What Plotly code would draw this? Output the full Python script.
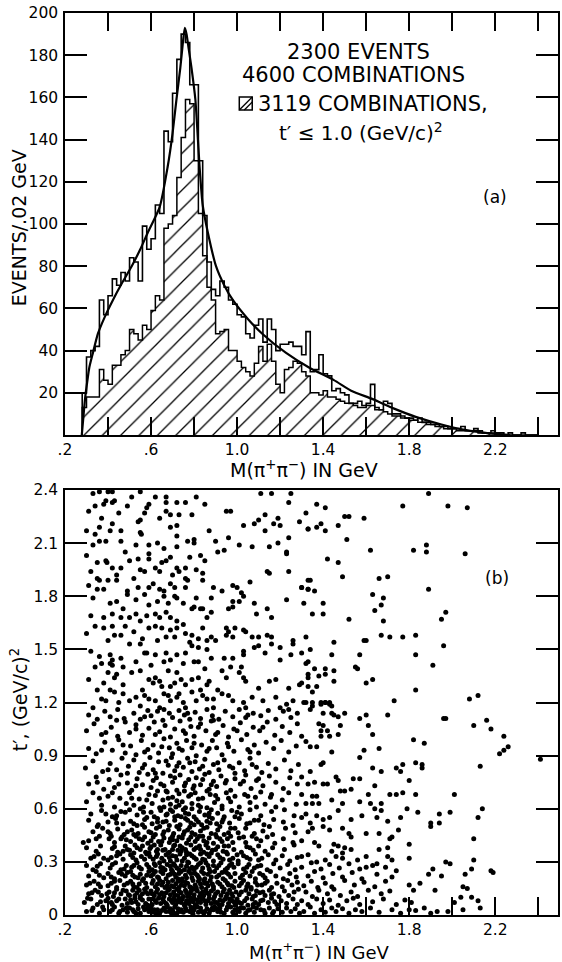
import plotly.graph_objects as go

# ---------------- figure geometry (pixels) ----------------
W, H = 562, 962
ML, MR, MT, MB = 65, 2, 13, 47
PW, PH = W - ML - MR, H - MT - MB


def px(x):
    """pixel column -> paper x"""
    return (x - ML) / PW


def py(y):
    """pixel row -> paper y"""
    return (H - MB - y) / PH


FONT = "DejaVu Sans"

# ---------------- (a) mass spectrum, 0.02 GeV bins ----------------
BIN_START = 0.28
BIN_WIDTH = 0.02

all_combinations = [
    20, 37, 40, 42, 64, 57, 66, 74, 71, 77,
    73, 84, 82, 73, 99, 88, 93, 109, 105, 144,
    139, 162, 178, 190, 186, 166, 166, 130, 104, 82,
    69, 66, 73, 70, 64, 62, 57, 56, 48, 46,
    52, 55, 44, 55, 50, 40, 43, 43, 44, 42,
    42, 38, 49, 30, 31, 38, 29, 28, 21, 22,
    20, 19, 15, 15, 16, 14, 15, 24, 13, 12,
    16, 15, 10, 10, 9, 8, 8, 7, 8, 6,
    6, 5, 5, 4, 4, 3, 3, 3, 4, 2,
    2, 3, 2, 1, 1, 2, 1, 1, 0, 1,
    0, 0, 1, 0, 0, 0,
]

tprime_below_1 = [
    13, 18, 18, 18, 31, 26, 24, 33, 33, 38,
    40, 50, 48, 45, 52, 50, 59, 66, 64, 98,
    100, 104, 122, 141, 159, 157, 130, 105, 85, 70,
    64, 48, 49, 50, 40, 40, 35, 32, 30, 28,
    34, 42, 35, 43, 35, 24, 20, 31, 32, 35,
    34, 30, 28, 20, 20, 19, 21, 18, 18, 17,
    16, 15, 15, 14, 13, 13, 14, 14, 12, 12,
    11, 10, 9, 9, 8, 8, 7, 7, 6, 6,
    5, 5, 4, 4, 3, 3, 3, 2, 2, 2,
    2, 2, 1, 1, 1, 1, 1, 0, 0, 0,
    0, 0, 0, 0, 0, 0,
]

# fitted curve for the full sample
fit_mass = [0.278, 0.285, 0.293, 0.303, 0.313, 0.33, 0.353, 0.385, 0.423, 0.465,
            0.51, 0.55, 0.585, 0.64, 0.677, 0.70, 0.718, 0.736, 0.748, 0.757,
            0.765, 0.775, 0.788, 0.806, 0.815, 0.825, 0.84, 0.864, 0.902, 0.94,
            0.98, 1.05, 1.117, 1.226, 1.334, 1.45, 1.53, 1.63, 1.73, 1.83,
            1.95, 2.06, 2.17, 2.27]
fit_events = [0, 8, 17, 25, 32, 39, 48, 56, 64, 72,
              80, 88, 96, 108, 127, 143, 159, 174, 186, 193,
              190, 183, 174, 159, 145, 128, 109, 96, 80, 71,
              64, 55, 48, 39, 32, 26, 21, 17, 12.5, 8.6,
              5, 2.4, 0.8, 0]

mass_ticks = [0.2, 0.6, 1.0, 1.4, 1.8, 2.2]
mass_labels = [".2", ".6", "1.0", "1.4", "1.8", "2.2"]
mass_minor = [0.4, 0.8, 1.2, 1.6, 2.0, 2.4]
events_ticks = [20, 40, 60, 80, 100, 120, 140, 160, 180, 200]
events_labels = ["20", "40", "60", "80", "100", "120", "140", "160", "180", "200"]

# ---------------- (b) t' versus M(pi+ pi-) ----------------
tprime_ticks = [0, 0.3, 0.6, 0.9, 1.2, 1.5, 1.8, 2.1, 2.4]
tprime_labels = ["0", "0.3", "0.6", "0.9", "1.2", "1.5", "1.8", "2.1", "2.4"]
upper_scale_ticks = [0.487, 0.769, 1.056, 1.343, 1.631, 1.922, 2.209]

# (mass GeV, t' (GeV/c)^2) pairs, low-t' region
dots_low = [
    (.30,.02),(.33,.04),(.36,.01),(.38,.03),(.41,.02),(.43,.045),(.45,.01),(.47,.03),(.49,.015),
    (.50,.04),(.52,.02),(.54,.035),(.55,.01),(.57,.03),(.59,.02),(.60,.045),(.61,.015),(.63,.03),
    (.64,.01),(.66,.04),(.67,.02),(.69,.035),(.695,.01),(.70,.025),(.71,.045),(.72,.01),(.74,.03),
    (.75,.015),(.76,.04),(.78,.02),(.79,.035),(.795,.005),(.80,.03),(.82,.015),(.83,.04),(.85,.02),
    (.86,.035),(.87,.01),(.89,.03),(.895,.045),(.91,.02),(.92,.04),(.94,.01),(.95,.03),(.97,.045),
    (.98,.015),(.99,.03),(1.01,.02),(1.03,.04),(1.04,.01),(1.06,.03),(1.08,.015),(1.09,.04),
    (1.11,.03),(1.13,.01),(1.15,.04),(1.17,.02),(1.19,.035),(1.21,.015),(1.23,.04),(1.25,.02),
    (1.27,.035),(1.29,.01),
    (.29,.07),(.32,.09),(.35,.06),(.39,.08),(.40,.095),(.42,.06),(.44,.08),(.465,.055),(.48,.09),
    (.51,.07),(.525,.095),(.54,.06),(.56,.085),(.575,.065),(.59,.09),(.605,.06),(.62,.08),(.635,.095),
    (.645,.065),(.66,.075),(.675,.055),(.685,.09),(.70,.07),(.71,.085),(.715,.06),(.73,.095),(.74,.07),
    (.755,.055),(.765,.08),(.775,.065),(.785,.095),(.795,.075),(.81,.06),(.815,.085),(.83,.07),
    (.84,.095),(.855,.06),(.865,.08),(.88,.065),(.89,.09),(.905,.07),(.92,.085),(.93,.06),(.945,.09),
    (.96,.065),(.975,.08),(.99,.055),(1.0,.09),(1.02,.065),(1.035,.08),(1.05,.055),(1.07,.09),
    (1.085,.07),(1.10,.06),(1.12,.085),(1.145,.07),(1.16,.095),(1.185,.06),(1.205,.08),(1.23,.065),
    (1.26,.09),(1.28,.06),
    (.31,.12),(.34,.14),(.37,.11),(.405,.13),(.425,.105),(.44,.145),(.46,.12),(.485,.135),(.50,.11),
    (.515,.14),(.535,.125),(.55,.105),(.57,.145),(.585,.12),(.60,.135),(.615,.11),(.63,.145),
    (.65,.125),(.66,.105),(.68,.14),(.69,.115),(.705,.13),(.72,.145),(.725,.11),(.74,.125),(.76,.14),
    (.77,.105),(.78,.12),(.795,.145),(.80,.115),(.815,.135),(.825,.105),(.84,.13),(.855,.145),
    (.87,.115),(.88,.135),(.895,.105),(.91,.13),(.925,.11),(.94,.145),(.955,.12),(.965,.14),(.98,.105),
    (.995,.13),(1.01,.115),(1.04,.14),(1.055,.12),(1.075,.105),(1.09,.135),(1.105,.125),(1.13,.11),
    (1.15,.14),(1.17,.12),(1.195,.105),(1.22,.135),(1.24,.11),(1.265,.13),(1.285,.145),
    (.30,.17),(.335,.19),(.365,.16),(.415,.18),(.44,.155),(.455,.195),(.475,.17),(.505,.19),(.52,.16),
    (.545,.175),(.56,.195),(.58,.155),(.605,.18),(.62,.16),(.64,.195),(.65,.17),(.665,.155),(.68,.185),
    (.695,.165),(.70,.195),(.715,.175),(.73,.155),(.745,.19),(.755,.165),(.77,.18),(.785,.155),
    (.795,.195),(.805,.17),(.82,.19),(.835,.155),(.85,.18),(.865,.165),(.875,.195),(.89,.16),
    (.91,.185),(.93,.16),(.945,.195),(.96,.17),(.985,.155),(.99,.19),(1.01,.165),(1.03,.195),
    (1.05,.175),(1.065,.155),(1.085,.185),(1.115,.17),(1.14,.19),(1.16,.155),(1.185,.18),(1.21,.16),
    (1.235,.195),(1.255,.17),(1.28,.185),
    (.31,.22),(.345,.245),(.38,.21),(.40,.235),(.43,.205),(.45,.24),(.48,.22),(.505,.245),(.525,.215),
    (.55,.23),(.565,.205),(.59,.245),(.60,.22),(.62,.245),(.635,.21),(.655,.235),(.67,.205),(.69,.23),
    (.70,.245),(.715,.215),(.73,.235),(.745,.205),(.76,.225),(.775,.245),(.79,.21),(.805,.235),
    (.82,.215),(.835,.245),(.85,.205),(.865,.23),(.88,.215),(.895,.245),(.915,.225),(.935,.205),
    (.95,.24),(.97,.215),(.99,.235),(1.015,.21),(1.04,.24),(1.06,.22),(1.085,.205),(1.105,.235),
    (1.13,.21),(1.155,.245),(1.18,.22),(1.215,.205),(1.245,.235),(1.275,.215),
    (.30,.28),(.33,.255),(.365,.29),(.41,.265),(.435,.295),(.46,.255),(.485,.28),(.51,.27),(.535,.295),
    (.555,.26),(.58,.285),(.605,.255),(.62,.28),(.64,.295),(.655,.265),(.675,.285),(.695,.255),
    (.705,.29),(.72,.265),(.74,.28),(.755,.255),(.775,.295),(.79,.27),(.80,.255),(.82,.285),(.84,.265),
    (.855,.295),(.87,.26),(.89,.28),(.905,.265),(.925,.295),(.945,.255),(.965,.28),(.985,.27),
    (1.005,.29),(1.03,.26),(1.055,.285),(1.08,.265),(1.11,.28),(1.14,.255),(1.17,.29),(1.20,.265),
    (1.235,.285),(1.27,.255),
    (.32,.32),(.355,.345),(.40,.31),(.44,.335),(.47,.315),(.505,.34),(.53,.31),(.555,.33),(.58,.345),
    (.61,.315),(.63,.345),(.65,.32),(.67,.34),(.69,.305),(.70,.335),(.72,.31),(.735,.345),(.755,.32),
    (.77,.30),(.79,.335),(.81,.315),(.83,.345),(.85,.31),(.87,.33),(.89,.305),(.91,.34),(.935,.315),
    (.955,.345),(.98,.32),(1.005,.305),(1.03,.335),(1.06,.315),(1.085,.345),(1.115,.32),(1.145,.34),
    (1.18,.31),(1.21,.335),(1.245,.305),(1.28,.325),
    (.30,.38),(.345,.36),(.42,.375),(.445,.355),(.48,.39),(.50,.365),(.525,.395),(.55,.37),(.575,.355),
    (.60,.385),(.625,.36),(.645,.395),(.665,.37),(.685,.355),(.705,.39),(.725,.365),(.745,.38),
    (.765,.355),(.785,.395),(.80,.37),(.825,.39),(.845,.355),(.865,.38),(.885,.365),(.91,.385),
    (.935,.36),(.96,.39),(.985,.37),(1.02,.355),(1.045,.385),(1.075,.365),(1.10,.39),(1.13,.36),
    (1.165,.38),(1.22,.37),(1.265,.395),
    (.31,.42),(.36,.445),(.405,.43),(.43,.41),(.465,.44),(.505,.415),(.53,.445),(.56,.425),(.585,.405),
    (.61,.44),(.635,.415),(.66,.435),(.685,.41),(.70,.445),(.72,.42),(.745,.435),(.765,.405),(.785,.44),
    (.805,.415),(.825,.445),(.845,.42),(.87,.435),(.89,.405),(.905,.44),(.93,.415),(.955,.43),(.98,.41),
    (1.01,.435),(1.04,.41),(1.07,.445),(1.11,.42),(1.14,.44),(1.175,.405),(1.215,.43),(1.26,.41),
    (.285,.41),
    (.33,.47),(.375,.49),(.41,.46),(.445,.485),(.475,.455),(.51,.48),(.54,.46),(.57,.495),(.60,.465),
    (.625,.49),(.655,.455),(.68,.48),(.705,.46),(.73,.485),(.755,.47),(.78,.495),(.805,.455),(.83,.475),
    (.86,.495),(.88,.46),(.91,.48),(.94,.455),(.97,.49),(1.005,.465),(1.04,.49),(1.08,.46),(1.12,.475),
    (1.165,.455),(1.225,.49),(1.27,.465),
    (.31,.535),(.355,.51),(.40,.525),(.435,.545),(.47,.515),(.505,.53),(.535,.505),(.57,.54),
    (.605,.515),(.63,.545),(.655,.525),(.685,.505),(.71,.535),(.735,.51),(.76,.545),(.785,.52),
    (.81,.54),(.835,.51),(.86,.53),(.885,.545),(.905,.515),(.935,.54),(.965,.52),(1.01,.545),
    (1.045,.515),(1.08,.535),(1.125,.51),(1.17,.54),(1.215,.525),(1.26,.505),
    (.32,.57),(.37,.59),(.42,.555),(.46,.585),(.50,.595),(.535,.565),(.565,.58),(.615,.555),(.645,.59),
    (.675,.57),(.70,.585),(.725,.56),(.75,.595),(.775,.57),(.80,.555),(.825,.585),(.85,.565),(.88,.595),
    (.91,.575),(.94,.555),(.975,.59),(1.02,.57),(1.06,.595),(1.11,.56),(1.16,.585),(1.22,.595),
    (1.265,.56),
]

# the crowded rho-band core at small t'
dots_core = [
    (.325,.025),(.375,.045),(.42,.03),(.455,.02),(.485,.04),(.515,.03),(.53,.01),(.565,.045),(.585,.035),
    (.615,.03),(.625,.005),(.65,.025),(.675,.045),(.685,.02),(.705,.01),(.725,.035),(.735,.02),(.765,.025),
    (.785,.045),(.79,.015),(.815,.045),(.835,.02),(.845,.01),(.875,.025),(.885,.04),(.905,.035),(.925,.015),
    (.955,.045),(.985,.005),(1.015,.04),(1.05,.025),(1.075,.045),(1.125,.025),(1.165,.01),
    (.305,.095),(.365,.075),(.415,.07),(.45,.09),(.49,.065),(.505,.085),(.53,.075),(.55,.095),(.585,.055),
    (.61,.09),(.625,.07),(.655,.09),(.67,.065),(.695,.08),(.705,.095),(.725,.075),(.745,.09),(.76,.065),
    (.78,.08),(.80,.095),(.82,.075),(.835,.09),(.85,.08),(.87,.095),(.895,.07),(.915,.06),(.935,.08),
    (.965,.09),(.985,.075),(1.01,.07),(1.045,.095),(1.075,.06),(1.11,.08),(1.175,.075),
    (.325,.125),(.355,.13),(.395,.12),(.43,.125),(.47,.14),(.495,.115),(.525,.11),(.545,.14),(.56,.12),
    (.575,.13),(.605,.12),(.625,.13),(.64,.115),(.67,.125),(.685,.145),(.71,.115),(.73,.135),(.75,.105),
    (.765,.125),(.785,.135),(.81,.145),(.83,.12),(.845,.11),(.86,.125),(.89,.145),(.90,.12),(.935,.13),
    (.95,.105),(.975,.12),(1.02,.13),(1.065,.145),(1.085,.11),(1.12,.13),(1.16,.115),
    (.315,.18),(.355,.175),(.40,.165),(.43,.19),(.49,.18),(.515,.175),(.535,.155),(.575,.18),(.61,.195),
    (.63,.175),(.655,.185),(.675,.165),(.705,.16),(.725,.19),(.74,.17),(.76,.185),(.78,.16),(.81,.155),
    (.83,.175),(.845,.195),(.86,.18),(.885,.175),(.92,.175),(.955,.18),(.975,.165),(1.02,.18),(1.045,.16),
    (1.095,.17),(1.13,.18),
    (.36,.225),(.415,.215),(.465,.23),(.49,.24),(.515,.225),(.54,.21),(.58,.225),(.61,.23),(.63,.215),
    (.645,.245),(.68,.225),(.71,.23),(.725,.205),(.74,.245),(.765,.21),(.785,.235),(.815,.225),(.825,.205),
    (.845,.235),(.875,.245),(.905,.215),(.93,.24),(.96,.23),(1.025,.225),(1.07,.245),(1.12,.225),
    (.35,.275),(.42,.285),(.475,.26),(.52,.28),(.545,.27),(.59,.27),(.615,.29),(.645,.27),(.665,.255),
    (.69,.275),(.71,.28),(.73,.255),(.765,.275),(.78,.26),(.81,.27),(.83,.295),(.865,.28),(.915,.28),
    (.955,.265),(.975,.29),(1.045,.27),(1.095,.275),
    (.335,.33),(.415,.325),(.455,.345),(.515,.325),(.57,.315),(.595,.33),(.625,.33),(.66,.305),(.685,.325),
    (.715,.33),(.745,.305),(.765,.34),(.80,.325),(.84,.315),(.86,.345),(.92,.325),(.965,.31),(1.045,.325),
    (1.10,.31),
    (.365,.39),(.43,.385),(.49,.37),(.535,.38),(.595,.375),(.615,.395),(.655,.365),(.70,.37),(.735,.39),
    (.76,.37),(.81,.38),(.855,.395),(.90,.37),(.95,.355),(1.06,.38),
    (.345,.43),(.415,.445),(.485,.425),(.545,.43),(.60,.42),(.65,.415),(.69,.43),(.73,.44),(.775,.425),
    (.815,.43),(.86,.41),(.92,.43),(.97,.445),(1.09,.43),
    (.38,.32),(.47,.36),(.52,.35),(.56,.39),(.59,.35),(.63,.37),(.68,.35),(.71,.395),(.74,.36),(.78,.345),
    (.83,.37),(.88,.35),(.94,.39),(1.0,.34),
    (.40,.47),(.46,.43),(.52,.455),(.57,.44),(.62,.455),(.66,.47),(.70,.425),(.75,.455),(.79,.465),
    (.84,.445),(.90,.455),(.96,.465),(1.03,.44),
    (.44,.56),(.52,.515),(.58,.55),(.63,.525),(.67,.565),(.71,.555),(.77,.535),(.82,.525),(.87,.555),
    (.93,.525),(.99,.555),(1.10,.535),
]

dots_mid = [
    (.30,.64),(.33,.69),(.37,.62),(.40,.67),(.43,.61),(.455,.66),(.485,.63),(.50,.69),(.52,.62),
    (.545,.655),(.565,.61),(.59,.68),(.605,.63),(.62,.675),(.64,.605),(.655,.65),(.675,.695),(.69,.625),
    (.70,.665),(.715,.61),(.73,.685),(.745,.64),(.76,.605),(.775,.67),(.79,.63),(.805,.69),(.82,.62),
    (.84,.66),(.86,.605),(.875,.68),(.895,.635),(.91,.655),(.93,.615),(.95,.69),(.97,.64),(.99,.67),
    (1.01,.61),(1.035,.68),(1.06,.635),(1.085,.665),(1.11,.695),(1.13,.625),(1.155,.665),(1.18,.61),
    (1.21,.65),(1.24,.69),(1.275,.625),
    (.31,.74),(.345,.78),(.38,.71),(.405,.765),(.43,.72),(.46,.79),(.49,.745),(.51,.705),(.535,.77),
    (.56,.735),(.585,.795),(.60,.72),(.625,.775),(.645,.74),(.67,.70),(.69,.785),(.70,.75),(.72,.705),
    (.735,.79),(.755,.73),(.775,.765),(.795,.715),(.81,.775),(.83,.735),(.85,.795),(.87,.71),(.89,.755),
    (.905,.725),(.925,.785),(.945,.745),(.97,.705),(.99,.77),(1.015,.74),(1.04,.79),(1.065,.715),
    (1.09,.76),(1.12,.73),(1.15,.785),(1.18,.75),(1.215,.715),(1.245,.775),(1.28,.74),
    (.295,.83),(.33,.87),(.375,.81),(.41,.855),(.44,.82),(.465,.885),(.495,.84),(.52,.875),(.545,.805),
    (.57,.85),(.595,.89),(.61,.82),(.635,.865),(.655,.80),(.68,.845),(.695,.89),(.71,.815),(.73,.86),
    (.75,.835),(.77,.885),(.79,.81),(.805,.865),(.825,.825),(.85,.88),(.87,.805),(.89,.85),(.915,.82),
    (.94,.875),(.965,.84),(.99,.80),(1.01,.86),(1.035,.815),(1.06,.885),(1.09,.835),(1.115,.805),
    (1.145,.855),(1.18,.825),(1.22,.875),(1.25,.815),(1.285,.85),
    (.31,.94),(.345,.91),(.385,.975),(.42,.93),(.45,.99),(.48,.915),(.505,.955),(.53,.905),(.555,.985),
    (.585,.935),(.61,.96),(.635,.915),(.66,.995),(.685,.945),(.70,.91),(.72,.97),(.745,.93),(.765,.985),
    (.79,.945),(.81,.90),(.835,.96),(.86,.925),(.885,.985),(.905,.945),(.93,.905),(.955,.97),(.985,.925),
    (1.02,.99),(1.05,.935),(1.08,.96),(1.10,.915),(1.135,.975),(1.17,.94),(1.205,.985),(1.24,.92),
    (1.275,.955),
    (.30,1.04),(.335,1.08),(.37,1.02),(.415,1.06),(.445,1.01),(.48,1.09),(.50,1.03),(.53,1.075),
    (.56,1.015),(.59,1.055),(.615,1.09),(.64,1.035),(.665,1.07),(.69,1.005),(.71,1.05),(.735,1.095),
    (.76,1.025),(.785,1.065),(.80,1.01),(.83,1.08),(.855,1.04),(.88,1.095),(.91,1.03),(.935,1.07),
    (.96,1.005),(.985,1.05),(1.015,1.085),(1.045,1.02),(1.075,1.06),(1.105,1.04),(1.14,1.09),
    (1.175,1.015),(1.21,1.065),(1.245,1.03),(1.28,1.08),
    (.31,1.13),(.35,1.105),(.385,1.15),(.41,1.12),(.445,1.16),(.475,1.11),(.52,1.14),(.55,1.105),
    (.585,1.155),(.60,1.125),(.63,1.15),(.655,1.10),(.685,1.14),(.70,1.115),(.73,1.155),(.755,1.13),
    (.78,1.105),(.805,1.145),(.83,1.11),(.86,1.16),(.885,1.125),(.915,1.105),(.945,1.15),(.98,1.12),
    (1.01,1.16),(1.04,1.115),(1.075,1.14),(1.11,1.125),(1.145,1.155),(1.18,1.105),(1.215,1.15),
    (1.25,1.115),(1.28,1.14),
    (.35,.50),(.44,.52),(.49,.47),(.56,.51),(.59,.47),(.64,.50),(.67,.53),(.72,.50),(.74,.555),(.77,.48),
    (.80,.51),(.845,.49),(.875,.52),(.92,.50),(.99,.49),(1.06,.52),(1.15,.50),
    (.39,.57),(.48,.58),(.55,.60),(.60,.58),(.66,.61),(.69,.595),(.73,.62),(.76,.575),(.79,.60),(.83,.61),
    (.87,.575),(.93,.60),(1.0,.58),(1.09,.61),
    (.36,.66),(.42,.69),(.51,.66),(.58,.65),(.63,.70),(.68,.66),(.72,.645),(.755,.70),(.785,.68),
    (.82,.655),(.86,.70),(.90,.675),(.96,.66),(1.05,.67),(1.16,.68),
    (.35,.75),(.45,.74),(.53,.73),(.61,.76),(.66,.73),(.71,.775),(.76,.745),(.80,.73),(.84,.765),
    (.88,.735),(.95,.76),(1.03,.755),(1.10,.77),
    (.40,.82),(.49,.80),(.56,.83),(.62,.80),(.67,.87),(.72,.84),(.78,.86),(.84,.84),(.91,.86),(.98,.83),
    (1.07,.85),
    (.37,.93),(.47,.96),(.57,.92),(.65,.95),(.73,.94),(.80,.97),(.87,.94),(.96,.95),(1.06,.92),
    (.39,1.03),(.53,1.05),(.62,1.02),(.75,1.04),(.82,1.06),(.90,1.02),(1.00,1.04),(1.12,1.06),
    (.44,1.10),(.57,1.12),(.66,1.16),(.77,1.14),(.89,1.10),(1.05,1.13),
]

dots_right_low = [
    (1.31,.02),(1.34,.045),(1.36,.01),(1.39,.03),(1.41,.015),(1.44,.04),(1.46,.02),(1.49,.035),
    (1.52,.01),(1.55,.03),(1.58,.02),(1.62,.04),(1.66,.015),(1.72,.03),(1.76,.01),(1.83,.025),
    (1.93,.02),(2.05,.03),
    (1.30,.08),(1.33,.06),(1.37,.09),(1.40,.065),(1.43,.085),(1.47,.055),(1.51,.08),(1.54,.095),
    (1.57,.06),(1.63,.075),(1.68,.09),(1.74,.06),(1.78,.085),
    (1.32,.13),(1.35,.105),(1.38,.14),(1.42,.12),(1.45,.145),(1.48,.11),(1.53,.13),(1.56,.105),
    (1.61,.14),(1.67,.12),(1.71,.135),
    (1.31,.165),(1.345,.19),(1.375,.155),(1.41,.18),(1.44,.16),(1.50,.195),(1.545,.17),(1.59,.185),
    (1.64,.16),(1.69,.19),
    (1.33,.22),(1.36,.245),(1.40,.21),(1.445,.235),(1.49,.215),(1.535,.24),(1.58,.205),(1.65,.23),
    (1.72,.215),
    (1.30,.27),(1.345,.295),(1.39,.26),(1.43,.285),(1.475,.265),(1.52,.29),(1.57,.26),(1.63,.28),
    (1.69,.27),
]

dots_right = [
    (1.35,1.18),(1.39,1.19),(1.41,1.20),(1.43,1.19),(1.40,1.14),(1.44,1.14),(1.45,1.13),(1.47,1.12),
    (1.50,1.14),(1.57,1.11),(1.60,1.13),(1.70,1.13),(1.38,1.08),(1.40,1.07),(1.39,1.04),(1.42,1.04),
    (1.39,1.01),(1.43,1.01),(1.48,1.07),(1.47,1.02),(1.61,1.07),(1.63,1.02),(1.96,1.11),(1.97,1.11),
    (2.10,1.07),(2.16,1.10),(2.18,1.05),(2.24,1.01),(1.30,1.01),(1.32,0.98),(1.34,0.95),(1.37,0.95),
    (1.44,0.92),(1.40,0.86),(1.39,0.85),(1.59,0.93),(1.66,0.94),(1.57,0.89),(1.82,0.99),(1.87,0.97),
    (2.22,0.91),(2.24,0.93),(2.26,0.95),(2.41,0.88),(1.63,0.83),(1.67,0.81),(1.74,0.83),(1.76,0.81),
    (1.77,0.85),(1.83,0.86),(1.86,0.85),(1.86,0.83),(2.13,0.84),(1.30,0.78),(1.34,0.81),(1.33,0.74),
    (1.36,0.75),(1.40,0.74),(1.42,0.74),(1.46,0.78),(1.47,0.76),(1.48,0.70),(1.50,0.70),(1.53,0.71),
    (1.54,0.77),(1.57,0.77),(1.64,0.73),(1.61,0.68),(1.71,0.68),(1.74,0.68),(1.77,0.69),(1.80,0.76),
    (1.83,0.68),(2.01,0.68),(1.30,0.68),(1.35,0.67),(1.37,0.67),(1.32,0.63),(1.35,0.63),(1.38,0.63),
    (1.44,0.65),(1.49,0.63),(1.57,0.64),(1.62,0.63),(1.67,0.63),(1.64,0.60),(1.67,0.59),(1.65,0.55),
    (1.53,0.54),(1.58,0.56),(1.79,0.60),(1.84,0.58),(1.94,0.57),(1.99,0.58),(2.14,0.60),(2.12,0.55),
    (1.70,0.53),(1.76,0.55),(1.90,0.52),(1.90,0.50),(1.94,0.52),(1.30,0.55),(1.32,0.57),(1.37,0.56),
    (1.40,0.54),(1.43,0.55),(1.47,0.59),(1.34,0.52),(1.33,0.47),(1.35,0.49),(1.40,0.50),(1.43,0.48),
    (1.49,0.49),(1.52,0.46),(1.53,0.44),(1.60,0.46),(1.66,0.46),(1.71,0.43),(1.75,0.48),(1.72,0.44),
    (1.30,0.42),(1.36,0.41),(1.38,0.39),(1.45,0.40),(1.47,0.39),(1.50,0.38),(1.44,0.36),(1.49,0.35),
    (1.53,0.37),(1.60,0.33),(1.66,0.37),(1.70,0.38),(1.80,0.40),(1.80,0.32),(2.10,0.43),(1.30,0.33),
    (1.33,0.34),(1.37,0.30),(1.41,0.31),(1.46,0.33),(1.49,0.32),(1.56,0.31),(1.60,0.27),(1.65,0.29),
    (1.70,0.33),(1.72,0.31),(1.74,0.25),(1.97,0.30),(1.99,0.29),(1.91,0.26),(1.89,0.23),(2.10,0.31),
    (2.09,0.26),(2.06,0.23),(2.18,0.25),(2.19,0.24),(1.92,0.14),(1.80,0.17),(1.82,0.14),(1.85,0.18),
    (1.95,0.22),(2.09,0.10),(2.12,0.08),(2.13,0.04),(2.05,0.16),(2.07,0.15),(2.04,0.10),(2.01,0.07),
    (1.98,0.02),(1.90,0.01),(1.87,0.04),(1.80,0.03),(1.81,0.07),
]

dots_upper_left = [
    (.33,2.38),(.36,2.39),(.40,2.39),(.42,2.39),(.43,2.34),(.42,2.33),(.39,2.34),(.38,2.32),(.34,2.31),
    (.55,2.39),(.51,2.36),(.59,2.32),(.58,2.30),(.57,2.27),(.55,2.23),(.54,2.22),(.67,2.36),(.67,2.33),
    (.67,2.28),(.69,2.26),(.72,2.33),(.73,2.26),(.72,2.20),(.69,2.19),(.72,2.14),(.79,2.26),(.81,2.36),
    (.85,2.32),(.95,2.28),(.97,2.28),(1.03,2.20),(1.08,2.21),(1.10,2.23),(1.13,2.26),(1.17,2.21),
    (1.19,2.24),(1.20,2.20),(1.24,2.13),(1.29,2.22),(1.33,2.18),(1.25,2.38),(1.24,2.33),(1.11,2.38),
    (1.16,2.38),(1.13,2.17),(.30,2.17),(.34,2.15),(.36,2.19),(.41,2.17),(.42,2.21),(.46,2.17),(.36,2.11),
    (.39,2.11),(.46,2.11),(.33,2.09),(.55,2.16),(.555,2.15),(.63,2.10),(.59,2.09),(.59,2.04),(.72,2.08),
    (.77,2.11),(.80,2.12),(.80,2.10),(.87,2.17),(.90,2.11),(.91,2.05),(.94,2.06),(.96,2.13),(1.01,2.09),
    (1.07,2.08),(1.15,2.08),(1.19,2.10),(1.23,2.05),(1.23,2.04),(1.24,1.94),(1.14,1.94),(1.15,1.93),
    (1.06,1.88),(.98,1.86),(1.00,1.85),(1.02,1.82),(1.03,1.80),(1.01,1.77),(.93,1.83),(.89,1.85),
    (.84,1.89),(.84,1.93),(.83,2.03),(.85,2.00),(.69,2.02),(.67,2.00),(.65,1.99),(.62,1.96),(.64,1.94),
    (.72,1.96),(.73,1.94),(.76,1.96),(.76,1.90),(.77,1.89),(.76,1.85),(.50,2.00),(.54,2.01),(.59,2.01),
    (.57,1.94),(.55,1.95),(.35,1.99),(.39,2.00),(.395,1.99),(.42,1.96),(.46,1.96),(.35,1.90),(.36,1.89),
    (.40,1.89),(.44,1.89),(.31,1.86),(.35,1.84),(.38,1.84),(.49,1.83),(.49,1.81),(.44,1.77),(.41,1.76),
    (.54,1.85),(.59,1.85),(.61,1.87),(.64,1.84),(.66,1.83),(.69,1.87),(.71,1.85),(.71,1.80),(.72,1.79),
    (.59,1.75),(.63,1.77),(.66,1.80),(.68,1.76),(.81,1.79),(.83,1.73),(.84,1.73),(.80,1.74),(.79,1.73),
    (.88,1.79),(.88,1.71),(.96,1.73),(.98,1.77),(.98,1.74),(1.08,1.76),(1.09,1.70),(1.14,1.73),
    (1.16,1.68),(1.23,1.78),(1.30,1.85),(1.33,1.84),(1.33,1.89),(.32,1.69),(.38,1.68),(.42,1.70),
    (.46,1.68),(.50,1.68),(.53,1.70),(.55,1.66),(.58,1.69),(.62,1.70),(.64,1.68),(.67,1.71),(.69,1.68),
    (.72,1.66),(.34,1.63),(.38,1.62),(.42,1.63),(.43,1.58),(.46,1.58),(.48,1.63),(.59,1.62),(.62,1.63),
    (.65,1.62),(.69,1.61),(.72,1.62),(.71,1.57),(.67,1.57),(.76,1.59),(.79,1.58),(.78,1.54),(.82,1.56),
    (.86,1.55),(.88,1.57),(.90,1.55),(.95,1.62),(.96,1.60),(.99,1.62),(1.03,1.61),(.95,1.58),(.98,1.57),
    (1.04,1.60),(1.07,1.57),(1.10,1.57),(1.14,1.58),(1.16,1.57),(1.20,1.51),(1.26,1.55),(1.32,1.57),
    (.32,1.49),(.36,1.46),(.41,1.47),(.42,1.44),(.37,1.42),(.41,1.42),(.42,1.41),(.44,1.36),(.40,1.37),
    (.43,1.34),(.47,1.40),(.50,1.53),(.55,1.53),(.57,1.48),(.58,1.48),(.62,1.47),(.67,1.48),(.72,1.47),
    (.69,1.44),(.76,1.48),(.79,1.52),(.82,1.51),(.86,1.50),(.80,1.43),(.82,1.43),(.85,1.39),(.94,1.45),
    (.98,1.45),(1.03,1.47),(1.03,1.49),(1.02,1.40),(1.08,1.51),(1.10,1.52),(1.13,1.48),(1.16,1.53),
    (1.20,1.44),(1.25,1.47),(1.26,1.53),(1.33,1.43),(.51,1.37),(.55,1.38),(.59,1.33),(.62,1.34),
    (.64,1.32),(.68,1.38),(.72,1.37),(.74,1.33),(.76,1.30),(.79,1.33),(.82,1.34),(.69,1.29),(.65,1.29),
    (.61,1.31),(.83,1.27),(.86,1.30),(.87,1.32),(.93,1.38),(.95,1.34),(.97,1.40),(1.01,1.37),(1.03,1.34),
    (1.04,1.32),(1.10,1.28),(1.15,1.32),(1.18,1.33),(1.24,1.28),(1.29,1.30),(1.33,1.36),(.35,1.27),
    (.41,1.27),(.43,1.26),(.47,1.25),(.50,1.21),(.53,1.23),(.59,1.22),(.62,1.21),(.66,1.25),(.69,1.21),
    (.72,1.23),(.73,1.25),(.75,1.20),(.81,1.21),(.86,1.22),(.89,1.22),(.93,1.25),(.96,1.24),(.98,1.21),
    (1.03,1.20),(1.07,1.23),(1.12,1.21),(1.18,1.23),(1.23,1.19),(1.26,1.21),(1.32,1.20),(.33,1.17),
    (.39,1.21),(.45,1.20),(.55,1.18),(.64,1.17),(.76,1.17),(.89,1.17),(1.04,1.17),(1.20,1.17),(1.24,1.16),
    (.31,2.28),(.37,2.24),(.45,2.27),(.49,2.31),(.62,2.36),(.64,2.24),(.76,2.33),(.30,2.03),(.48,2.05),
    (.53,2.09),(.66,2.07),(.78,2.02),(.32,1.94),(.44,1.92),(.52,1.90),(.70,1.92),(.81,1.95),(.33,1.79),
    (.47,1.73),(.53,1.78),(.57,1.81),(.75,1.76),(.86,1.68),(.30,1.59),(.40,1.55),(.52,1.60),(.56,1.56),
    (.63,1.55),(.75,1.64),(.84,1.62),(.34,1.40),(.46,1.45),(.53,1.43),(.60,1.41),(.66,1.43),(.75,1.42),
    (.88,1.45),(.31,1.33),(.38,1.31),(.47,1.30),(.56,1.27),(.71,1.31),(.79,1.26),(.91,1.27),(.37,1.22),
    (.57,1.24),(.68,1.24),(.84,1.24),
]

dots_upper_right = [
    (1.32,2.27),(1.37,2.32),(1.41,2.30),(1.33,2.18),(1.37,2.19),(1.39,2.21),(1.41,2.17),(1.47,2.20),
    (1.50,2.25),(1.52,2.25),(1.59,2.24),(1.51,2.12),(1.62,2.06),(1.42,2.01),(1.47,1.99),(1.49,1.91),
    (1.66,1.90),(1.70,1.91),(1.30,1.85),(1.33,1.84),(1.34,1.89),(1.36,1.83),(1.31,1.76),(1.40,1.76),
    (1.35,1.70),(1.40,1.70),(1.52,1.67),(1.63,1.81),(1.68,1.79),(1.67,1.75),(1.64,1.72),(1.68,1.66),
    (1.77,2.31),(1.89,2.38),(1.98,2.31),(2.07,2.30),(1.82,2.06),(1.88,2.09),(1.88,2.05),(2.06,2.04),
    (1.89,1.84),(1.95,1.67),(1.97,1.71),(1.59,1.55),(1.60,1.55),(1.67,1.58),(1.71,1.57),(1.77,1.57),
    (1.83,1.58),(1.45,1.54),(1.30,1.48),(1.34,1.50),(1.44,1.47),(1.57,1.47),(1.83,1.47),(1.96,1.52),
    (1.32,1.42),(1.36,1.39),(1.41,1.39),(1.45,1.38),(1.55,1.40),(1.56,1.39),(1.91,1.41),(1.38,1.35),
    (1.41,1.36),(1.45,1.32),(1.30,1.31),(1.33,1.34),(1.33,1.29),(1.37,1.29),(1.35,1.26),(1.60,1.31),
    (1.63,1.33),(1.83,1.27),(1.31,1.20),(1.35,1.20),(1.39,1.20),(1.41,1.20),(1.43,1.20),(1.44,1.18),
    (1.34,1.16),(1.73,1.21),(2.08,1.22),(2.12,1.24),
]

# ---------------- traces ----------------
def step_outline(counts):
    edges = [BIN_START + BIN_WIDTH * i for i in range(len(counts) + 1)]
    xs = [edges[0]] + edges[:-1] + [edges[-1]]
    ys = [0] + list(counts) + [0]
    return xs, ys


hx, hy = step_outline(tprime_below_1)
ax_, ay_ = step_outline(all_combinations)

fig = go.Figure()
fig.add_trace(go.Scatter(
    x=hx, y=hy, mode="lines", line=dict(shape="hv", color="black", width=1.5),
    fill="tozeroy", fillcolor="white",
    fillpattern=dict(shape="/", size=13, solidity=0.1, fgcolor="black",
                     bgcolor="white", fillmode="replace"),
    xaxis="x", yaxis="y", hoverinfo="skip", showlegend=False))
fig.add_trace(go.Scatter(
    x=ax_, y=ay_, mode="lines", line=dict(shape="hv", color="black", width=1.6),
    xaxis="x", yaxis="y", hoverinfo="skip", showlegend=False))
fig.add_trace(go.Scatter(
    x=fit_mass, y=fit_events, mode="lines",
    line=dict(shape="spline", smoothing=0.6, color="black", width=2.2),
    xaxis="x", yaxis="y", hoverinfo="skip", showlegend=False))

all_dots = (dots_low + dots_core + dots_mid + dots_right_low + dots_right
            + dots_upper_left + dots_upper_right)
fig.add_trace(go.Scatter(
    x=[d[0] for d in all_dots], y=[d[1] for d in all_dots], mode="markers",
    marker=dict(size=5, color="black", line=dict(width=0)),
    xaxis="x2", yaxis="y2", hoverinfo="skip", showlegend=False))

# ---------------- axes ----------------
XR = [0.2, 0.2 + PW / 216.0]
axis_common = dict(showline=True, linecolor="black", linewidth=1.5, showgrid=False,
                   zeroline=False, ticks="inside", tickcolor="black", tickwidth=1.5)
xfont = dict(family=FONT, size=15.5, color="black")
yfont = dict(family=FONT, size=15.5, color="black")
minor_x = dict(tickvals=mass_minor, ticks="inside", ticklen=18, tickwidth=1.5,
               tickcolor="black", showgrid=False)

fig.update_layout(
    width=W, height=H, margin=dict(l=ML, r=MR, t=MT, b=MB),
    paper_bgcolor="white", plot_bgcolor="white", showlegend=False,
    xaxis=dict(domain=[0, 1], anchor="y", range=XR, tickvals=mass_ticks, ticktext=mass_labels,
               ticklen=18, mirror="ticks", ticklabelstandoff=0, minor=minor_x,
               tickfont=xfont, **axis_common),
    yaxis=dict(domain=[py(435), 1], anchor="x", range=[0, 200], tickvals=events_ticks,
               ticktext=events_labels, ticklen=22, mirror="ticks", ticklabelstandoff=2,
               tickfont=yfont, **axis_common),
    xaxis2=dict(domain=[0, 1], anchor="y2", range=XR, tickvals=mass_ticks, ticktext=mass_labels,
                ticklen=18, mirror=True, ticklabelstandoff=0, minor=minor_x,
                tickfont=xfont, **axis_common),
    yaxis2=dict(domain=[0, py(490)], anchor="x2", range=[0, 2.4], tickvals=tprime_ticks,
                ticktext=tprime_labels, ticklen=22, mirror="ticks", ticklabelstandoff=2,
                tickfont=yfont, **axis_common),
    xaxis3=dict(overlaying="x2", side="top", anchor="y2", range=XR, tickvals=upper_scale_ticks,
                ticks="inside", ticklen=22, tickwidth=1.5, tickcolor="black",
                showticklabels=False, showline=False, showgrid=False, zeroline=False),
)

# ---------------- text ----------------
def label(text, x, y, size=18, angle=0, xanchor="center"):
    fig.add_annotation(text=text, x=px(x), y=py(y), xref="paper", yref="paper",
                       showarrow=False, textangle=angle, xanchor=xanchor, yanchor="middle",
                       font=dict(family=FONT, size=size, color="black"))


mass_title = "M(π<sup>+</sup>π<sup>−</sup>) IN GeV"
label("EVENTS/.02 GeV", 19, 228, size=19, angle=-90)
label(mass_title, 305, 469, size=19)
label("t′, (GeV/c)<sup>2</sup>", 19, 700, size=19, angle=-90)
label(mass_title, 321, 951, size=18)

label("2300 EVENTS", 360, 52, size=21)
label("4600 COMBINATIONS", 355, 75, size=21)
label("3119 COMBINATIONS,", 257, 104, size=21, xanchor="left")
label("t′ ≤ 1.0 (GeV/c)<sup>2</sup>", 362, 132, size=20)
label("(a)", 497, 197, size=17)
label("(b)", 499, 578, size=17)

# hatched key box beside the 3119 entry
fig.add_shape(type="rect", xref="paper", yref="paper", x0=px(240), x1=px(253),
              y0=py(110), y1=py(97), line=dict(color="black", width=1.5))
fig.add_shape(type="line", xref="paper", yref="paper", x0=px(240), x1=px(253),
              y0=py(110), y1=py(97), line=dict(color="black", width=1.3))
fig.add_shape(type="line", xref="paper", yref="paper", x0=px(245), x1=px(253),
              y0=py(110), y1=py(102), line=dict(color="black", width=1.3))

fig.write_html("out.html")
